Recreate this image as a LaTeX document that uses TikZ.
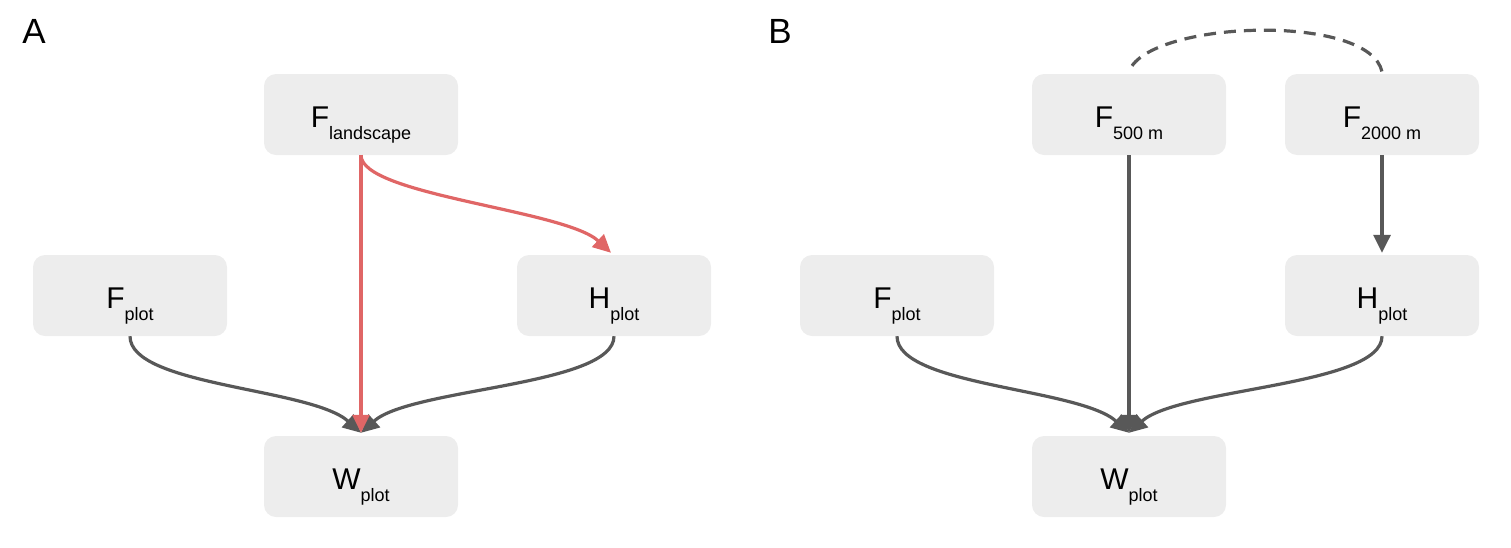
\documentclass[tikz,border=0pt]{standalone}
\usepackage{fontspec}
\setmainfont{Liberation Sans}
\usetikzlibrary{arrows.meta}
\definecolor{fondboite}{RGB}{237,237,237}
\definecolor{traitgris}{RGB}{88,88,88}
\definecolor{traitrouge}{RGB}{224,102,102}
\newcommand{\etiq}[2]{#1\raisebox{-12pt}{\fontsize{18}{20}\selectfont #2}}
\tikzset{
  boite/.style={fill=fondboite, rounded corners=12pt, minimum width=194pt, minimum height=81pt,
    inner sep=0pt, text height=25pt, text depth=0pt, font=\fontsize{30}{34}\selectfont},
  fleche/.style={draw=traitgris, line width=3.2pt, -{Triangle[length=18pt,width=17pt]}},
  lettre/.style={font=\fontsize{35}{40}\selectfont, inner sep=0pt}
}
\begin{document}
\begin{tikzpicture}[x=1pt,y=-1pt]
  \pgfmathsetmacro{\hauteurun}{114.5}
  \pgfmathsetmacro{\hauteurdeux}{295.5}
  \pgfmathsetmacro{\hauteurtrois}{476.5}
  \useasboundingbox (0,0) rectangle (1511,547);
  \node[lettre] (lettreA) at (34,31.5) {A};
  \node[lettre] (lettreB) at (780,31.5) {B};
  % A
  \node[boite] (Fland) at (361,\hauteurun) {\etiq{F}{landscape}};
  \node[boite] (FplotA) at (130,\hauteurdeux) {\etiq{F}{plot}};
  \node[boite] (HplotA) at (614,\hauteurdeux) {\etiq{H}{plot}};
  \node[boite] (WplotA) at (361,\hauteurtrois) {\etiq{W}{plot}};
  \draw[fleche] (FplotA.south) .. controls +(0,50) and +(-50,-45) .. ([yshift=3pt]WplotA.north);
  \draw[fleche] (HplotA.south) .. controls +(0,50) and +(50,-45) .. ([yshift=3pt]WplotA.north);
  \draw[fleche, draw=traitrouge] (Fland.south) -- ([yshift=3pt]WplotA.north);
  \draw[fleche, draw=traitrouge] (Fland.south) .. controls +(0,40) and +(-46,-43) .. ([xshift=-3pt,yshift=2pt]HplotA.north);
  % B
  \node[boite] (Fcinq) at (1129,\hauteurun) {\etiq{F}{500 m}};
  \node[boite] (Fdeux) at (1382,\hauteurun) {\etiq{F}{2000 m}};
  \node[boite] (FplotB) at (897,\hauteurdeux) {\etiq{F}{plot}};
  \node[boite] (HplotB) at (1382,\hauteurdeux) {\etiq{H}{plot}};
  \node[boite] (WplotB) at (1129,\hauteurtrois) {\etiq{W}{plot}};
  \draw[fleche] (FplotB.south) .. controls +(0,50) and +(-50,-45) .. ([yshift=3pt]WplotB.north);
  \draw[fleche] (HplotB.south) .. controls +(0,50) and +(50,-45) .. ([yshift=3pt]WplotB.north);
  \draw[fleche] (Fcinq.south) -- ([yshift=3pt]WplotB.north);
  \draw[fleche] (Fdeux.south) -- ([yshift=2pt]HplotB.north);
  \draw[draw=traitgris, line width=3.2pt, dash pattern=on 12pt off 8pt]
    ([xshift=3pt,yshift=8pt]Fcinq.north) .. controls +(33,-46) and +(-12,-57) .. ([yshift=2pt]Fdeux.north);
\end{tikzpicture}
\end{document}
